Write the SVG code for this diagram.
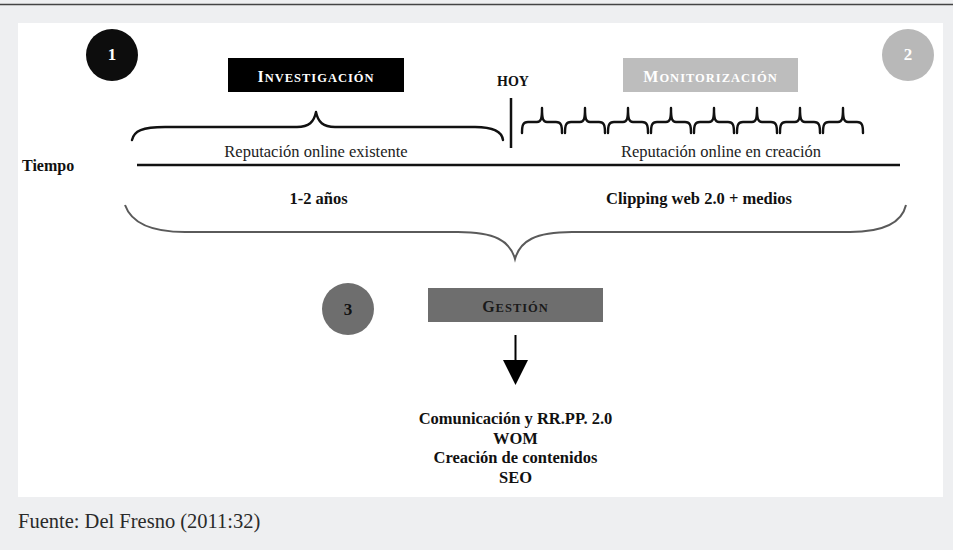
<svg xmlns="http://www.w3.org/2000/svg" xmlns:xlink="http://www.w3.org/1999/xlink" width="953" height="550" viewBox="0 0 953 550">
<style>
text{font-family:"Liberation Serif","Times New Roman",serif;}
.b{font-weight:bold;fill:#111;}
.r{fill:#222;}
.sc{font-weight:bold;letter-spacing:1px;}
.num{font-weight:bold;font-size:17px;text-anchor:middle;}
.brace{fill:none;stroke:#111;stroke-width:2.4;stroke-linecap:round;stroke-linejoin:round;}
</style>
<defs>
<path id="sb" d="M0,133 C0,125 1,122 6,122 L15,122 C19,122 20,119 20,108 C20,119 21,122 25,122 L34,122 C39,122 40,125 40,133"/>
</defs>
<rect x="0" y="0" width="953" height="550" fill="#eeeff1"/>
<line x1="0" y1="4.5" x2="953" y2="4.5" stroke="#444" stroke-width="1.5"/>
<rect x="18" y="23" width="925" height="474" fill="#fff"/>

<g id="n1">
<circle cx="112" cy="55" r="26" fill="#0d0d0d"/>
<text class="num" x="112" y="60" fill="#fff">1</text>
</g>
<g id="n2">
<circle cx="908" cy="55" r="26" fill="#b8b8b8"/>
<text class="num" x="908" y="60" fill="#fff">2</text>
</g>
<g id="n3">
<circle cx="348" cy="309" r="26" fill="#6e6e6e"/>
<text class="num" x="348" y="315" fill="#111">3</text>
</g>

<g id="investigacion">
<rect x="228" y="58" width="176" height="34" fill="#000"/>
<text class="sc" x="316" y="82" text-anchor="middle" fill="#fff"><tspan font-size="16">I</tspan><tspan font-size="12.5">NVESTIGACIÓN</tspan></text>
</g>
<g id="monitorizacion">
<rect x="623" y="58" width="175" height="34" fill="#bdbdbd"/>
<text class="sc" x="710.5" y="82" text-anchor="middle" fill="#fff"><tspan font-size="16">M</tspan><tspan font-size="12.5">ONITORIZACIÓN</tspan></text>
</g>
<g id="gestion">
<rect x="428" y="288" width="175" height="34" fill="#6e6e6e"/>
<text class="sc" x="515.5" y="312" text-anchor="middle" fill="#1a1a1a"><tspan font-size="16">G</tspan><tspan font-size="12.5">ESTIÓN</tspan></text>
</g>

<g id="timeline">
<line x1="137" y1="165" x2="900" y2="165" stroke="#111" stroke-width="2.5"/>
<text class="b" x="22" y="171" font-size="16">Tiempo</text>
<text class="b" x="497" y="86" font-size="14">HOY</text>
<line x1="511" y1="98" x2="511" y2="148" stroke="#111" stroke-width="2.5"/>
<text class="r" x="316" y="157" font-size="16.5" text-anchor="middle">Reputación online existente</text>
<text class="r" x="721" y="157" font-size="16.5" text-anchor="middle">Reputación online en creación</text>
<text class="b" x="318.5" y="204" font-size="16.5" text-anchor="middle">1-2 años</text>
<text class="b" x="699" y="204" font-size="16.5" text-anchor="middle">Clipping web 2.0 + medios</text>
</g>

<g id="connectors">
<path class="brace" d="M132,140 C134,131 142,127 165,127 L297,127 C309,127 314,122 316,112 C318,122 323,127 335,127 L475,127 C494,127 502,132 503,140"/>
<g class="brace">
<use xlink:href="#sb" x="522"/>
<use xlink:href="#sb" x="565"/>
<use xlink:href="#sb" x="608"/>
<use xlink:href="#sb" x="651"/>
<use xlink:href="#sb" x="694"/>
<use xlink:href="#sb" x="737"/>
<use xlink:href="#sb" x="780"/>
<use xlink:href="#sb" x="823"/>
</g>
<path d="M125,205 C131,222 150,232 185,232 L458,232 C495,232 510,241 515,259 C520,241 535,232 572,232 L850,232 C885,232 902,222 906,205" fill="none" stroke="#5a5a5a" stroke-width="2"/>
<line x1="515.5" y1="335" x2="515.5" y2="362" stroke="#000" stroke-width="2"/>
<polygon points="503,360 528,360 515.5,385" fill="#000"/>
</g>

<g id="acciones">
<text class="b" x="515.5" y="424" font-size="16.5" text-anchor="middle">Comunicación y RR.PP. 2.0</text>
<text class="b" x="515.5" y="443.5" font-size="16.5" text-anchor="middle">WOM</text>
<text class="b" x="515.5" y="463" font-size="16.5" text-anchor="middle">Creación de contenidos</text>
<text class="b" x="515.5" y="482.5" font-size="16.5" text-anchor="middle">SEO</text>
</g>

<text x="18" y="528" font-size="20.5" fill="#2a2a2a">Fuente: Del Fresno (2011:32)</text>
</svg>
